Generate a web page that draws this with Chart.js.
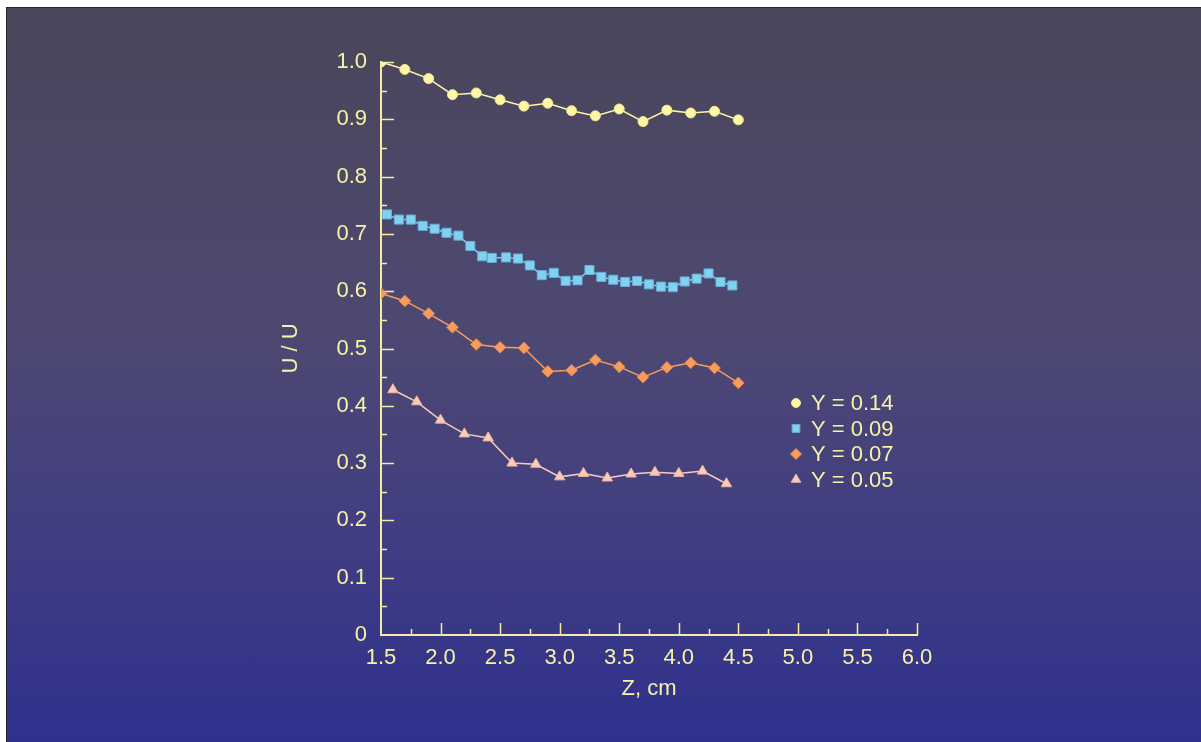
<!DOCTYPE html>
<html>
<head>
<meta charset="utf-8">
<title>U / U vs Z</title>
<script src="https://cdn.jsdelivr.net/npm/chart.js@4.4.1/dist/chart.umd.min.js"></script>
<style>
  html, body { margin: 0; padding: 0; background: #ffffff; overflow: hidden; }
  #frame {
    position: absolute; left: 6px; top: 7px; width: 1195px; height: 735px;
    border-left: 1px solid #262626; border-top: 1px solid #262626;
    background: linear-gradient(to bottom, #4a465a 0%, #4d4872 45%, #3f3c84 75%, #2e318d 100%);
  }
  #plot { position: absolute; left: 0; top: 0; }
</style>
</head>
<body>
<div id="frame"></div>
<canvas id="plot" width="1201" height="742"></canvas>
<script>
// Series Y = 0.14
const zA = [1.5, 1.7, 1.9, 2.1, 2.3, 2.5, 2.7, 2.9, 3.1, 3.3, 3.5, 3.7, 3.9, 4.1, 4.3, 4.5];
const uA = [1.0, 0.987, 0.971, 0.943, 0.946, 0.934, 0.923, 0.928, 0.915, 0.906, 0.918, 0.896, 0.916, 0.911, 0.914, 0.899];

// Series Y = 0.09
const zB = [1.55, 1.65, 1.75, 1.85, 1.95, 2.05, 2.15, 2.25, 2.35, 2.43, 2.55, 2.65, 2.75, 2.85, 2.95,
            3.05, 3.15, 3.25, 3.35, 3.45, 3.55, 3.65, 3.75, 3.85, 3.95, 4.05, 4.15, 4.25, 4.35, 4.45];
const uB = [0.734, 0.725, 0.725, 0.714, 0.709, 0.702, 0.697, 0.679, 0.661, 0.658, 0.659, 0.657, 0.645, 0.628, 0.632,
            0.618, 0.619, 0.637, 0.625, 0.620, 0.616, 0.618, 0.612, 0.608, 0.607, 0.617, 0.622, 0.631, 0.616, 0.610];

// Series Y = 0.07
const zC = [1.5, 1.7, 1.9, 2.1, 2.3, 2.5, 2.7, 2.9, 3.1, 3.3, 3.5, 3.7, 3.9, 4.1, 4.3, 4.5];
const uC = [0.596, 0.583, 0.561, 0.537, 0.507, 0.502, 0.501, 0.460, 0.462, 0.480, 0.468, 0.450, 0.467, 0.475, 0.466, 0.440];

// Series Y = 0.05
const zD = [1.6, 1.8, 2.0, 2.2, 2.4, 2.6, 2.8, 3.0, 3.2, 3.4, 3.6, 3.8, 4.0, 4.2, 4.4];
const uD = [0.428, 0.407, 0.375, 0.351, 0.344, 0.300, 0.298, 0.276, 0.282, 0.274, 0.281, 0.284, 0.282, 0.286, 0.264];

const seriesLabels = ['Y = 0.14', 'Y = 0.09', 'Y = 0.07', 'Y = 0.05'];

const axisColor = '#f3eca2';
const textColor = '#f7f2a8';
const fontFamily = '"Liberation Sans", Arial, Helvetica, sans-serif';

function pairs(xs, ys) {
    return xs.map((x, i) => ({ x: x, y: ys[i] }));
}

// Minor/major tick marks drawn on the inside of both axes
const innerTicks = {
    id: 'innerTicks',
    beforeDatasetsDraw(chart) {
        const { ctx, scales: { x, y } } = chart;
        ctx.save();
        ctx.strokeStyle = axisColor;
        ctx.lineWidth = 1.5;
        ctx.beginPath();
        for (let i = 1; i <= 20; i++) {
            const py = Math.round(y.getPixelForValue(i * 0.05)) + 0.5;
            const len = i % 2 === 0 ? 13 : 6;
            ctx.moveTo(x.left, py);
            ctx.lineTo(x.left + len, py);
        }
        for (let i = 1; i <= 18; i++) {
            const px = Math.round(x.getPixelForValue(1.5 + i * 0.25)) + 0.5;
            const len = i % 2 === 0 ? 12 : 6;
            ctx.moveTo(px, y.bottom);
            ctx.lineTo(px, y.bottom - len);
        }
        ctx.stroke();
        ctx.restore();
    }
};

// Legend inside the plot area, right of the curves
const innerLegend = {
    id: 'innerLegend',
    afterDraw(chart) {
        const { ctx } = chart;
        const mx = 796, tx = 811, y0 = 403, dy = 25.5;
        const sizes = [4.5, 5.5, 5.5, 5.5];
        ctx.save();
        ctx.font = '22px ' + fontFamily;
        ctx.textBaseline = 'middle';
        ctx.textAlign = 'left';
        chart.data.datasets.forEach((ds, i) => {
            const cy = y0 + i * dy;
            ctx.fillStyle = ds.pointBackgroundColor;
            ctx.strokeStyle = ds.pointBorderColor;
            Chart.helpers.drawPoint(ctx, {
                pointStyle: ds.pointStyle,
                radius: sizes[i],
                rotation: 0,
                borderWidth: 1
            }, mx, cy);
            ctx.fillStyle = textColor;
            ctx.fillText(ds.label, tx, cy + 1);
        });
        ctx.restore();
    }
};

function series(label, data, color, border, style, radius) {
    return {
        label: label,
        data: data,
        borderColor: color,
        borderWidth: 1.5,
        backgroundColor: color,
        pointBackgroundColor: color,
        pointBorderColor: border,
        pointBorderWidth: 1,
        pointStyle: style,
        pointRadius: radius,
        pointHoverRadius: radius,
        tension: 0
    };
}

const ctx = document.getElementById('plot').getContext('2d');
const chart = new Chart(ctx, {
    type: 'line',
    data: {
        datasets: [
            series(seriesLabels[0], pairs(zA, uA), '#fff6a6', '#f0e792', 'circle', 5),
            series(seriesLabels[1], pairs(zB, uB), '#80d2f2', '#6aaed6', 'rect', 6.4),
            series(seriesLabels[2], pairs(zC, uC), '#f69c5c', '#e58a4c', 'rectRot', 5.8),
            series(seriesLabels[3], pairs(zD, uD), '#fbcbb8', '#e8b4a4', 'triangle', 6)
        ]
    },
    options: {
        responsive: false,
        animation: false,
        events: [],
        layout: { padding: { left: 270, top: 62, right: 284, bottom: 37 } },
        plugins: {
            legend: { display: false },
            tooltip: { enabled: false }
        },
        scales: {
            x: {
                type: 'linear',
                position: 'bottom',
                min: 1.5,
                max: 6.0,
                grid: { display: false, drawTicks: false },
                border: { display: true, color: axisColor, width: 2 },
                ticks: {
                    stepSize: 0.5,
                    autoSkip: false,
                    maxRotation: 0,
                    padding: 10,
                    color: textColor,
                    font: { family: fontFamily, size: 22 },
                    callback: v => v.toFixed(1)
                },
                title: {
                    display: true,
                    text: 'Z, cm',
                    color: textColor,
                    font: { family: fontFamily, size: 22 },
                    padding: { top: 0, bottom: 3 }
                },
                afterFit(scale) { scale.height = 70; }
            },
            y: {
                type: 'linear',
                min: 0,
                max: 1.0,
                grid: { display: false, drawTicks: false },
                border: { display: true, color: axisColor, width: 2 },
                ticks: {
                    stepSize: 0.1,
                    autoSkip: false,
                    padding: 14,
                    color: textColor,
                    font: { family: fontFamily, size: 22 },
                    callback: v => (Math.abs(v) < 1e-9 ? '0' : v.toFixed(1))
                },
                title: {
                    display: true,
                    text: 'U / U',
                    color: textColor,
                    font: { family: fontFamily, size: 22 },
                    padding: { top: 8, bottom: 0 }
                },
                afterFit(scale) { scale.width = 111; }
            }
        }
    },
    plugins: [innerTicks, innerLegend]
});
</script>
</body>
</html>
